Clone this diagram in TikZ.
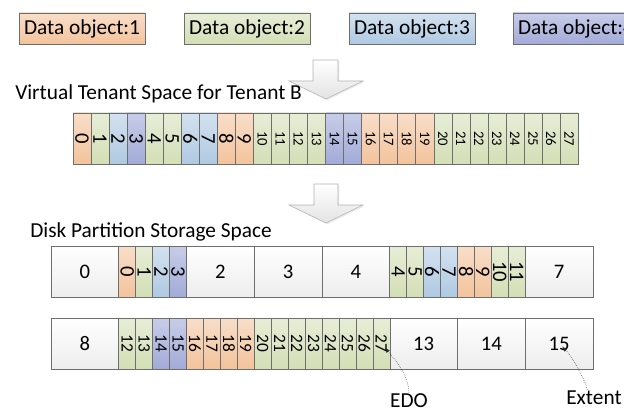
\documentclass[tikz,border=0pt]{standalone}
\usepackage{graphicx}
\usepackage{fontspec}
\setmainfont{Carlito}
\usetikzlibrary{%
  calc,%
  shadows,%
  arrows.meta%
}
\tikzset{>=latex}

\definecolor{dOrange}{HTML}{F3C39C}
\definecolor{dGreen}{HTML}{D3DFB6}
\definecolor{dBlue}{HTML}{AFC9E2}
\definecolor{dPurple}{HTML}{A2ABD8}
\definecolor{lineGray}{HTML}{6E6E6E}

\newcommand\labelfont{\fontsize{16}{19}\selectfont}
\newcommand\bigdigits{\fontsize{15.5}{18}\selectfont}
\newcommand\smalldigits{\fontsize{11}{13}\selectfont}
\newcommand\middigits{\fontsize{13}{15}\selectfont}

\tikzset{
  fillO/.style={top color=dOrange!55!white,bottom color=dOrange},
  fillG/.style={top color=dGreen!55!white,bottom color=dGreen},
  fillB/.style={top color=dBlue!55!white,bottom color=dBlue},
  fillP/.style={top color=dPurple!60!white,bottom color=dPurple},
  objbox/.style={draw=lineGray,inner sep=0pt,minimum width=126*0.75pt,
    minimum height=31*0.75pt,font=\labelfont,
    drop shadow={shadow xshift=1pt,shadow yshift=-1pt,opacity=0.25}},
  cellbox/.style={draw=lineGray,inner sep=0pt,minimum height=51*0.75pt},
  vcell/.style={cellbox,minimum width=18.04*0.75pt},
  dcell/.style={cellbox,minimum width=16.94*0.75pt},
  extentbox/.style={cellbox,minimum width=67.75*0.75pt,top color=white,
    bottom color=gray!14,font=\bigdigits},
  blockarrow/.style={draw=gray!60,top color=white,bottom color=gray!22,
    drop shadow={shadow xshift=1pt,shadow yshift=-1pt,opacity=0.15}},
  note/.style={draw=gray!30!black,densely dotted,thin}
}

\begin{document}
\begin{tikzpicture}[x=0.75pt,y=-0.75pt]
  \useasboundingbox (0,0) rectangle (624,417);

  % data objects
  \node[objbox,fillO] (obj1) at (82,28.5) {Data object:1};
  \node[objbox,fillG] (obj2) at (247,28.5) {Data object:2};
  \node[objbox,fillB] (obj3) at (412,28.5) {Data object:3};
  \node[objbox,fillP] (obj4) at (576,28.5) {Data object:4};

  \draw[blockarrow] (313,60) -- ++(25,0) -- ++(0,21) -- ++(25,0) -- ++(-37,18)
    -- ++(-37,-18) -- ++(24,0) -- cycle;

  % virtual tenant space
  \node[anchor=base west,inner sep=0pt,font=\labelfont] (vlabel) at (15,100)
    {Virtual Tenant Space for Tenant B};
  \foreach \c [count=\i from 0] in {O,G,B,P,G,G,B,B,O,O,G,G,G,G,P,P,O,O,O,O,G,G,G,G,G,G,G,G}
    \node[vcell,fill\c] (v\i) at ({73+18.04*(\i+0.5)},138.5)
      {\rotatebox{-90}{\ifnum\i<10 \bigdigits\else\smalldigits\fi\i}};

  \draw[blockarrow] (314,184) -- ++(24,0) -- ++(0,21) -- ++(25,0) -- ++(-37,18)
    -- ++(-37,-18) -- ++(25,0) -- cycle;

  % disk partition
  \node[anchor=base west,inner sep=0pt,font=\labelfont] (dlabel) at (30,237)
    {Disk Partition Storage Space};
  \foreach \n/\s in {0/0,2/2,3/3,4/4,7/7}
    \node[extentbox] (e\n) at ({51+67.75*(\s+0.5)},271.5) {\n};
  \foreach \n/\s in {8/0,13/5,14/6,15/7}
    \node[extentbox] (e\n) at ({51+67.75*(\s+0.5)},343.5) {\n};
  \foreach \c [count=\i from 0] in {O,G,B,P}
    \node[dcell,fill\c] (d\i) at ({118.75+16.94*(\i+0.5)},271.5)
      {\rotatebox{-90}{\bigdigits\i}};
  \foreach \c [count=\i from 4] in {G,G,B,B,O,O,G,G}
    \node[dcell,fill\c] (d\i) at ({389.75+16.94*(\i-4+0.5)},271.5)
      {\rotatebox{-90}{\bigdigits\i}};
  \foreach \c [count=\i from 12] in {G,G,P,P,O,O,O,O,G,G,G,G,G,G,G,G}
    \node[dcell,fill\c] (d\i) at ({118.75+16.94*(\i-12+0.5)},343.5)
      {\rotatebox{-90}{\middigits\i}};

  % notes
  \node[font=\labelfont,inner sep=1pt] (edo) at (409,401) {EDO};
  \node[font=\labelfont,inner sep=1pt] (extlabel) at (594,398) {Extent};
  \coordinate (edotip) at ($(d27.center)+(3.5,4)$);
  \coordinate (exttip) at ($(e15.center)+(3,3)$);
  \draw[note,->] (edo.north) .. controls +(-1,-20) and +(8,10) .. (edotip);
  \draw[note,->] ([xshift=-5pt]extlabel.north) .. controls +(-4,-14) and +(8,8) .. (exttip);
\end{tikzpicture}
\end{document}
